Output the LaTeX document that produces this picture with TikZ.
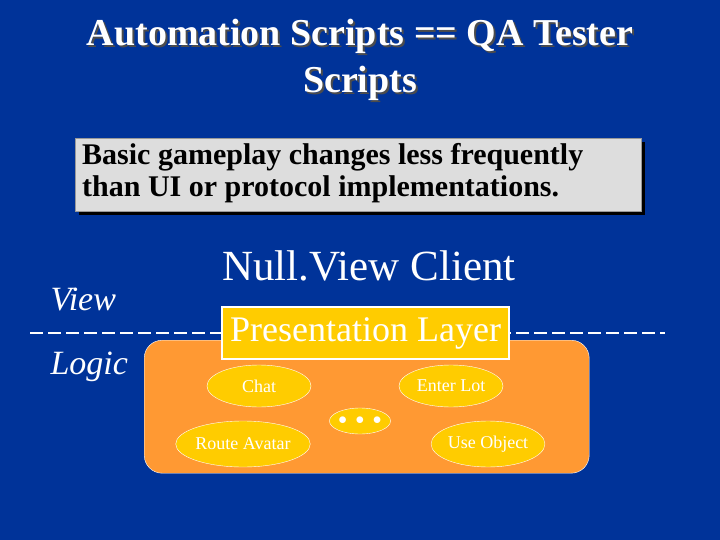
\documentclass[tikz,border=0pt]{standalone}
\usepackage{fontspec}
\setmainfont{Liberation Serif}
\usetikzlibrary{shapes.geometric}
\definecolor{bg}{RGB}{0,51,153}
\definecolor{orng}{RGB}{255,153,51}
\definecolor{gold}{RGB}{255,204,0}
\definecolor{boxgray}{RGB}{221,221,221}
\tikzset{
  oval/.style={ellipse,draw=white,fill=gold,text=white,inner sep=0pt,font=\fontsize{18}{18}\selectfont},
  titletext/.style={text=white,font=\bfseries\fontsize{38}{47}\selectfont,align=center}
}
\begin{document}
\begin{tikzpicture}[x=1pt,y=-1pt]
\fill[bg] (0,0) rectangle (720,540);
\useasboundingbox (0,0) rectangle (720,540);
\node[titletext,text=black!70] (tsh) at (362,62) {Automation Scripts == QA Tester\\Scripts};
\node[titletext] (title) at (360,60) {Automation Scripts == QA Tester\\Scripts};
\fill[black] (79,142) rectangle (645,215);
\node[draw=black!40,fill=boxgray,minimum width=566pt,minimum height=73pt,anchor=north west,inner sep=0pt] (box) at (75,138) {};
\node[anchor=north west,align=left,font=\bfseries\fontsize{30}{32}\selectfont,inner sep=0pt] (boxtext) at (82,143) {Basic gameplay changes less frequently\\than UI or protocol implementations.};
\node[text=white,font=\fontsize{43}{43}\selectfont] (nv) at (369,266) {Null.View Client};
\node[text=white,font=\itshape\fontsize{34}{34}\selectfont,anchor=west] (view) at (47,300) {View};
\node[text=white,font=\itshape\fontsize{34}{34}\selectfont,anchor=west] (logic) at (47,367) {Logic};
\coordinate (dl) at (30,333);
\coordinate (dr) at (665,333);
\draw[white,line width=1.6pt,dash pattern=on 13pt off 5pt] (dl) -- (dr);
\node[draw=white,fill=orng,rounded corners=18pt,minimum width=445pt,minimum height=133pt,anchor=north west,inner sep=0pt] (logicbox) at (144,340) {};
\node[draw=white,line width=1.2pt,fill=gold,text=white,minimum width=287pt,minimum height=52pt,inner sep=0pt,font=\fontsize{36}{36}\selectfont] (pres) at (365.5,333) {Presentation Layer};
\node[oval,minimum width=104pt,minimum height=42pt] (chat) at (259,386) {Chat};
\node[oval,minimum width=104pt,minimum height=42pt] (enter) at (451,386) {Enter Lot};
\node[oval,minimum width=60pt,minimum height=26pt] (dots) at (360,421) {$\bullet\;\bullet\;\bullet$};
\node[oval,minimum width=126pt,minimum height=46pt] (route) at (243,444) {Route Avatar};
\node[oval,minimum width=104pt,minimum height=46pt] (use) at (488,444) {Use Object};
\end{tikzpicture}
\end{document}
